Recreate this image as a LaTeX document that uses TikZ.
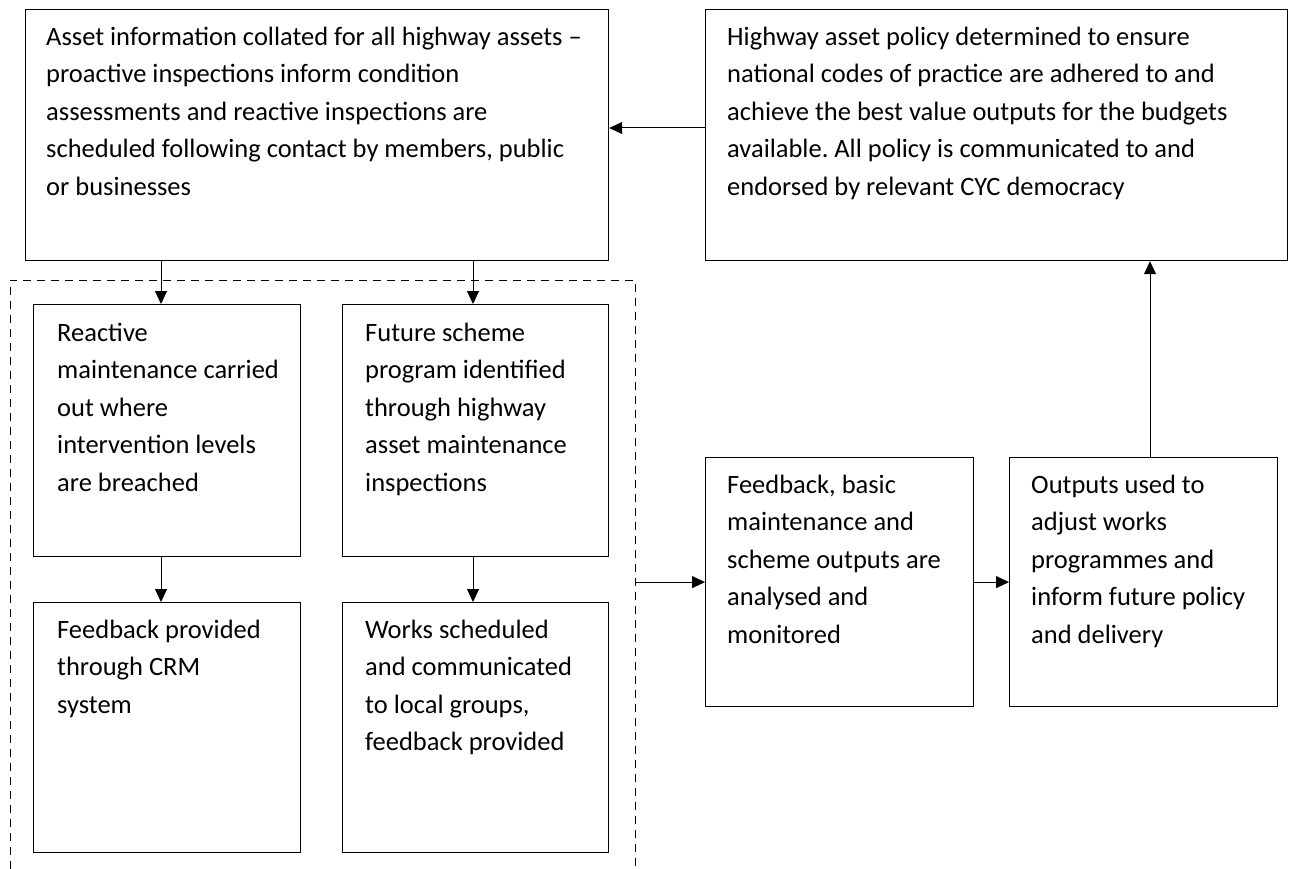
\documentclass[tikz,border=0pt]{standalone}
\usepackage{fontspec}
\setmainfont{Carlito}
\usetikzlibrary{arrows.meta}
\frenchspacing

\tikzset{
  box/.style={draw, line width=1.2pt, inner sep=0pt, anchor=north west},
  txt/.style={anchor=north west, inner sep=0pt, align=left,
    font=\fontsize{26.5}{37.5}\selectfont},
  arr/.style={line width=1pt, -{Triangle[length=13pt,width=12pt]}},
  grp/.style={line width=1pt, dash pattern=on 8pt off 6pt},
}
% first-line strut: fixes the baseline 24pt below the node's top
\newcommand{\fl}{\rule{0pt}{24pt}}

\begin{document}
\begin{tikzpicture}[x=1pt,y=-1pt]
\useasboundingbox (0,0) rectangle (1289,869);

% boxes
\node[box, minimum width=583pt, minimum height=251pt] (tl) at (25,9) {};
\node[box, minimum width=582pt, minimum height=251pt] (tr) at (705,9) {};
\node[box, minimum width=267pt, minimum height=252pt] (re) at (33,304) {};
\node[box, minimum width=266pt, minimum height=252pt] (fu) at (342,304) {};
\node[box, minimum width=267pt, minimum height=250pt] (crm) at (33,602) {};
\node[box, minimum width=266pt, minimum height=250pt] (wk) at (342,602) {};
\node[box, minimum width=268pt, minimum height=249pt] (fb) at (705,457) {};
\node[box, minimum width=268pt, minimum height=249pt] (out) at (1009,457) {};

% texts
\node[txt] (tltxt) at (46,21) {\fl Asset information collated for all highway assets --\\
proactive inspections inform condition\\
assessments and reactive inspections are\\
scheduled following contact by members, public\\
or businesses};
\node[txt] (trtxt) at (727,21) {\fl Highway asset policy determined to ensure\\
national codes of practice are adhered to and\\
achieve the best value outputs for the budgets\\
available. All policy is communicated to and\\
endorsed by relevant CYC democracy};
\node[txt] (retxt) at (57,317) {\fl Reactive\\
maintenance carried\\
out where\\
intervention levels\\
are breached};
\node[txt] (futxt) at (365,317) {\fl Future scheme\\
program identified\\
through highway\\
asset maintenance\\
inspections};
\node[txt] (crmtxt) at (57,614) {\fl Feedback provided\\
through CRM\\
system};
\node[txt] (wktxt) at (365,614) {\fl Works scheduled\\
and communicated\\
to local groups,\\
feedback provided};
\node[txt] (fbtxt) at (727,469) {\fl Feedback, basic\\
maintenance and\\
scheme outputs are\\
analysed and\\
monitored};
\node[txt] (outtxt) at (1031,469) {\fl Outputs used to\\
adjust works\\
programmes and\\
inform future policy\\
and delivery};

% dashed grouping frame, open at the bottom
\coordinate (gtl) at (10,280);
\coordinate (gtr) at (635,280);
\draw[grp] (10,869) -- (gtl) -- (gtr) -- (635,869);

% connectors
\draw[arr] (tr.west |- 0,128) -- (tl.east |- 0,128);
\draw[arr] (161,0 |- tl.south) -- (161,0 |- re.north);
\draw[arr] (473,0 |- tl.south) -- (473,0 |- fu.north);
\draw[arr] (161,0 |- re.south) -- (161,0 |- crm.north);
\draw[arr] (473,0 |- fu.south) -- (473,0 |- wk.north);
\draw[arr] (gtr |- fb.west) -- (fb.west);
\draw[arr] (fb.east) -- (out.west);
\draw[arr] (1150,0 |- out.north) -- (1150,0 |- tr.south);
\end{tikzpicture}
\end{document}
